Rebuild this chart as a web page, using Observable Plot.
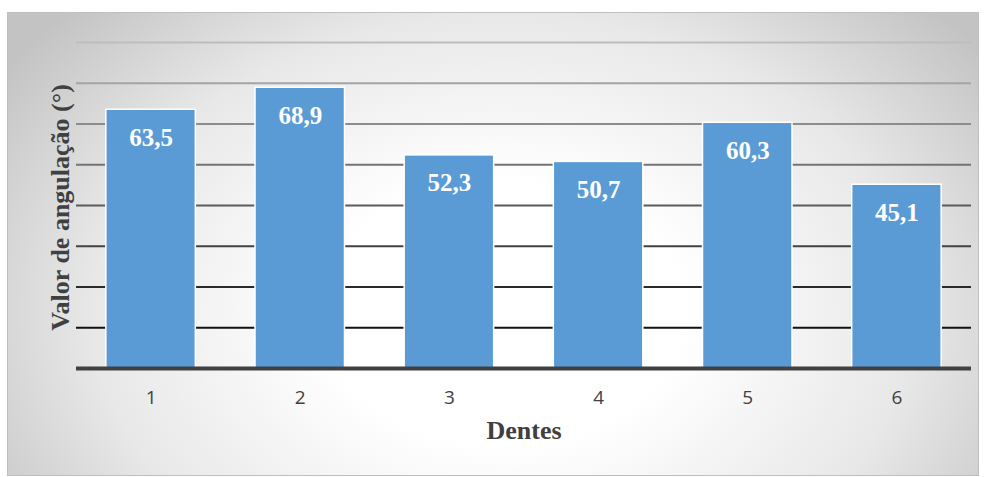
<!DOCTYPE html>
<html>
<head>
<meta charset="utf-8">
<script src="https://cdn.jsdelivr.net/npm/d3@7"></script>
<script src="https://cdn.jsdelivr.net/npm/@observablehq/plot@0.6"></script>
<style>
  html, body { margin: 0; padding: 0; background: #fff; width: 985px; height: 477px; overflow: hidden; }
  #bg { position: absolute; left: 7px; top: 12px; width: 972px; height: 464px;
        border: 1px solid #bfbfbf; box-sizing: border-box;
        background: radial-gradient(ellipse 62% 95% at 51% 65%, #ffffff 0%, #ffffff 30%, #e8e8e8 68%, #c3c3c3 100%); }
  #chart { position: absolute; left: 0; top: 0; }
</style>
</head>
<body>
<div id="bg"></div>
<div id="chart"></div>
<script>
const dentes = ["1", "2", "3", "4", "5", "6"];
const valores = [63.5, 68.9, 52.3, 50.7, 60.3, 45.1];
const gridValues = [10, 20, 30, 40, 50, 60, 70, 80];
const xTitle = "Dentes";
const yTitle = "Valor de angulação (°)";

const data = dentes.map((d, i) => ({ dente: d, valor: valores[i] }));
const fmt = v => v.toFixed(1).replace(".", ",");
const gridColor = d3.interpolateRgb("#111111", "#bdbdbd");

const chart = Plot.plot({
  width: 985,
  height: 477,
  marginLeft: 76,
  marginRight: 14,
  marginTop: 42,
  marginBottom: 109,
  style: { background: "transparent", overflow: "visible" },
  x: { domain: dentes, paddingInner: 0.4, paddingOuter: 0.2, round: false, label: null },
  y: { domain: [0, 80], axis: null },
  marks: [
    Plot.ruleY(gridValues, { stroke: d => gridColor((d - 10) / 70), strokeWidth: 2 }),
    Plot.barY(data, { x: "dente", y: "valor", fill: "#5b9bd5", stroke: "#ffffff", strokeWidth: 1.5 }),
    Plot.ruleY([0], { stroke: "#404040", strokeWidth: 4 }),
    Plot.text(data, {
      x: "dente", y: "valor", text: d => fmt(d.valor), dy: 28,
      fill: "#ffffff", fontFamily: "Liberation Serif", fontWeight: "bold", fontSize: 25
    }),
    Plot.axisX({ tickSize: 0, tickPadding: 22, fontSize: 19, fontFamily: "Open Sans", color: "#404040", label: null }),
    Plot.text([xTitle], {
      frameAnchor: "bottom", dy: 70, fill: "#404040",
      fontFamily: "Liberation Serif", fontWeight: "bold", fontSize: 26
    }),
    Plot.text([yTitle], {
      frameAnchor: "left", textAnchor: "middle", dx: -16, dy: 2, rotate: -90, fill: "#404040",
      fontFamily: "Liberation Serif", fontWeight: "bold", fontSize: 26
    })
  ]
});
document.getElementById("chart").appendChild(chart);
</script>
</body>
</html>
